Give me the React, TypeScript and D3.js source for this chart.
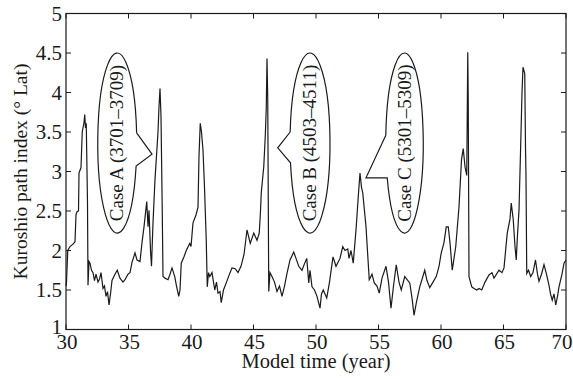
import * as d3 from "d3"

// model time (year) and Kuroshio path index (° Lat)
const years = [
  30.0, 30.04, 30.14, 30.32, 30.56, 30.72, 30.8, 30.88, 31.0, 31.04, 31.2, 31.3, 31.44, 31.5, 31.56, 31.62,
  31.72, 31.76, 31.84, 31.92, 32.04, 32.16, 32.28, 32.4, 32.56, 32.68, 32.8, 32.96, 33.08, 33.2, 33.32,
  33.44, 33.56, 33.68, 33.92, 34.1, 34.32, 34.56, 34.72, 34.96, 35.12, 35.28, 35.52, 35.68, 35.92, 36.08,
  36.24, 36.46, 36.56, 36.64, 36.76, 36.84, 36.96, 37.12, 37.24, 37.36, 37.44, 37.52, 37.6, 37.7, 37.76,
  37.92, 38.16, 38.32, 38.48, 38.7, 38.84, 39.02, 39.12, 39.22, 39.44, 39.62, 39.9, 40.0, 40.16, 40.4,
  40.56, 40.64, 40.74, 40.84, 40.96, 41.08, 41.22, 41.3, 41.4, 41.5, 41.68, 41.9, 42.04, 42.16, 42.32,
  42.42, 42.6, 42.82, 43.1, 43.28, 43.54, 43.76, 44.0, 44.24, 44.48, 44.74, 45.02, 45.28, 45.46, 45.56,
  45.62, 45.82, 45.94, 46.02, 46.08, 46.14, 46.22, 46.32, 46.48, 46.68, 46.88, 47.08, 47.28, 47.48, 47.68,
  47.92, 48.22, 48.4, 48.62, 48.88, 49.1, 49.26, 49.42, 49.52, 49.68, 49.88, 50.08, 50.32, 50.44, 50.58,
  50.86, 51.08, 51.36, 51.6, 51.92, 52.14, 52.32, 52.54, 52.64, 52.8, 52.98, 53.2, 53.42, 53.52, 53.64,
  53.74, 54.0, 54.26, 54.48, 54.66, 54.88, 55.06, 55.28, 55.6, 55.8, 56.0, 56.2, 56.42, 56.64, 56.82,
  57.1, 57.5, 57.68, 57.84, 58.04, 58.3, 58.7, 58.88, 59.1, 59.36, 59.62, 59.84, 60.02, 60.24, 60.42,
  60.58, 60.72, 60.9, 61.18, 61.44, 61.64, 61.78, 61.92, 62.06, 62.14, 62.18, 62.24, 62.46, 62.64, 62.86,
  63.04, 63.26, 63.52, 63.84, 64.08, 64.24, 64.64, 64.88, 65.04, 65.3, 65.52, 65.62, 65.78, 65.92, 66.02,
  66.12, 66.24, 66.38, 66.48, 66.56, 66.7, 66.76, 66.8, 66.86, 67.0, 67.18, 67.36, 67.56, 67.72, 67.84,
  68.04, 68.24, 68.44, 68.64, 68.76, 68.9, 69.04, 69.18, 69.32, 69.44, 69.68, 69.84, 70.0,
]
const pathIndex = [
  1.55, 1.6, 2.0, 2.05, 2.08, 2.11, 2.45, 2.49, 2.5, 2.98, 3.05, 3.5, 3.62, 3.72, 3.55, 3.61,
  2.6, 1.56, 1.86, 1.84, 1.75, 1.72, 1.62, 1.7, 1.6, 1.64, 1.72, 1.52, 1.55, 1.42, 1.48,
  1.31, 1.45, 1.62, 1.7, 1.75, 1.65, 1.6, 1.63, 1.7, 1.72, 1.85, 1.97, 1.88, 1.86, 2.1,
  2.3, 2.62, 2.3, 2.51, 2.0, 1.8, 2.35, 2.9, 3.2, 3.5, 3.82, 4.05, 3.7, 2.5, 1.67,
  1.65, 1.63, 1.7, 1.78, 1.67, 1.55, 1.42, 1.5, 1.84, 1.92, 2.0, 2.09, 2.05, 2.35, 2.45,
  2.55, 3.2, 3.61, 3.5, 3.27, 2.8, 2.13, 1.54, 1.72, 1.67, 1.72, 1.5, 1.6, 1.46, 1.48,
  1.34, 1.5, 1.59, 1.71, 1.78, 1.77, 1.72, 1.8, 1.95, 2.26, 2.09, 2.22, 2.13, 2.22, 2.5,
  2.73, 3.06, 3.44, 3.8, 4.43, 3.9, 1.48, 1.72, 1.67, 1.6, 1.48, 1.55, 1.42, 1.55, 1.71,
  1.88, 1.98, 1.9, 1.8, 1.75, 1.84, 1.9, 1.59, 1.75, 1.54, 1.5, 1.42, 1.27, 1.45, 1.5,
  1.4, 1.6, 1.92, 1.8, 1.9, 2.05, 2.0, 2.02, 1.9, 2.0, 1.84, 2.26, 2.77, 2.98, 2.8,
  2.73, 2.3, 1.63, 1.7, 1.59, 1.55, 1.46, 1.65, 1.8, 1.6, 1.27, 1.55, 1.82, 1.6, 1.5,
  1.67, 1.59, 1.4, 1.18, 1.35, 1.54, 1.75, 1.62, 1.53, 1.6, 1.67, 1.8, 1.97, 2.1, 2.3,
  2.3, 2.1, 1.75, 2.05, 2.55, 3.15, 3.29, 3.06, 2.95, 4.51, 3.9, 1.67, 1.54, 1.52, 1.5,
  1.52, 1.5, 1.6, 1.69, 1.72, 1.65, 1.75, 1.72, 1.78, 2.22, 2.4, 2.6, 2.39, 2.05, 1.88,
  2.2, 2.51, 3.36, 4.0, 4.32, 4.24, 3.3, 2.93, 1.71, 1.75, 1.67, 1.72, 1.88, 1.7, 1.61,
  1.7, 1.82, 1.7, 1.56, 1.45, 1.37, 1.45, 1.31, 1.42, 1.54, 1.7, 1.84, 1.88,
]

const xTicks = [30, 35, 40, 45, 50, 55, 60, 65, 70]
const yTicks = [1, 1.5, 2, 2.5, 3, 3.5, 4, 4.5, 5]

// callout balloons: centre year, horizontal radius (years), tail tip and where the tail meets the balloon
const caseLabels = ["Case A (3701–3709)", "Case B (4503–4511)", "Case C (5301–5309)"]
const caseCenters = [34.1, 49.52, 57.08]
const caseRadii = [1.56, 1.6, 1.5]
const caseTop = 4.5
const caseBottom = 2.22
const tailTips = [
  [36.88, 3.22],
  [46.94, 3.3],
  [54.0, 2.92],
]
const tailJoins = [
  [3.49, 3.07],
  [3.5, 3.11],
  [3.46, 2.92],
]

const W = 573
const H = 379
const margin = { top: 13.5, right: 7, bottom: 49.5, left: 66 }
const font = "'Liberation Serif', 'Times New Roman', serif"
const ink = "#1a1a1a"

export default function App() {
  const x = d3.scaleLinear().domain([30, 70]).range([margin.left, W - margin.right])
  const y = d3.scaleLinear().domain([1, 5]).range([H - margin.bottom, margin.top])

  const line = d3
    .line<number>()
    .x((_, i) => x(years[i]))
    .y((d) => y(d))
  const x0 = x.range()[0]
  const x1 = x.range()[1]
  const y0 = y.range()[0]
  const y1 = y.range()[1]
  const tick = 5

  // balloon outline with the tail cut into it
  const balloon = (i: number) => {
    const cx = x(caseCenters[i])
    const cy = (y(caseTop) + y(caseBottom)) / 2
    const ry = (y(caseBottom) - y(caseTop)) / 2
    const rx = x(caseCenters[i] + caseRadii[i]) - cx
    const tip = [x(tailTips[i][0]), y(tailTips[i][1])]
    const side = tip[0] > cx ? 1 : -1
    const onEdge = (v: number) => {
      const py = y(v)
      const t = (py - cy) / ry
      return [cx + side * rx * Math.sqrt(Math.max(0, 1 - t * t)), py]
    }
    const p1 = onEdge(tailJoins[i][0])
    const p2 = onEdge(tailJoins[i][1])
    const sweep = side > 0 ? 1 : 0
    return {
      d: `M${p1[0]},${p1[1]}L${tip[0]},${tip[1]}L${p2[0]},${p2[1]}A${rx},${ry} 0 1 ${sweep} ${p1[0]},${p1[1]}`,
      cx,
      cy,
    }
  }

  return (
    <svg
      width={W}
      height={H}
      style={{ position: "absolute", left: 0, top: 0, background: "#fff" }}
      fontFamily={font}
    >
      <rect width={W} height={H} fill="#fff" />
      <path d={line(pathIndex) ?? ""} fill="none" stroke={ink} strokeWidth={1.2} />

      {caseLabels.map((label, i) => {
        const b = balloon(i)
        return (
          <g key={label}>
            <path d={b.d} fill="none" stroke={ink} strokeWidth={1.2} />
            <text
              transform={`translate(${b.cx + 6},${b.cy}) rotate(-90)`}
              textAnchor="middle"
              fontSize={19}
              fill={ink}
            >
              {label}
            </text>
          </g>
        )
      })}

      {/* box */}
      <rect x={x0} y={y1} width={x1 - x0} height={y0 - y1} fill="none" stroke={ink} strokeWidth={1.2} />

      {xTicks.map((t) => (
        <g key={`x${t}`}>
          <line x1={x(t)} x2={x(t)} y1={y0} y2={y0 - tick} stroke={ink} />
          <line x1={x(t)} x2={x(t)} y1={y1} y2={y1 + tick} stroke={ink} />
          <text
            x={t === 70 ? x(t) - 4 : x(t) + 1}
            y={y0 + 19.5}
            textAnchor="middle"
            fontSize={21}
            fill={ink}
          >
            {t}
          </text>
        </g>
      ))}
      {yTicks.map((t) => (
        <g key={`y${t}`}>
          <line x1={x0} x2={x0 + tick} y1={y(t)} y2={y(t)} stroke={ink} />
          <line x1={x1} x2={x1 - tick} y1={y(t)} y2={y(t)} stroke={ink} />
          <text
            x={x0 - 4}
            y={t === 1 ? y(t) + 4 : y(t) + 7}
            textAnchor="end"
            fontSize={21}
            fill={ink}
          >
            {t}
          </text>
        </g>
      ))}

      <text x={(x0 + x1) / 2} y={368} textAnchor="middle" fontSize={20.5} fill={ink}>
        Model time (year)
      </text>
      <text
        transform={`translate(27,${(y0 + y1) / 2}) rotate(-90)`}
        textAnchor="middle"
        fontSize={19.5}
        fill={ink}
      >
        Kuroshio path index (° Lat)
      </text>
    </svg>
  )
}
